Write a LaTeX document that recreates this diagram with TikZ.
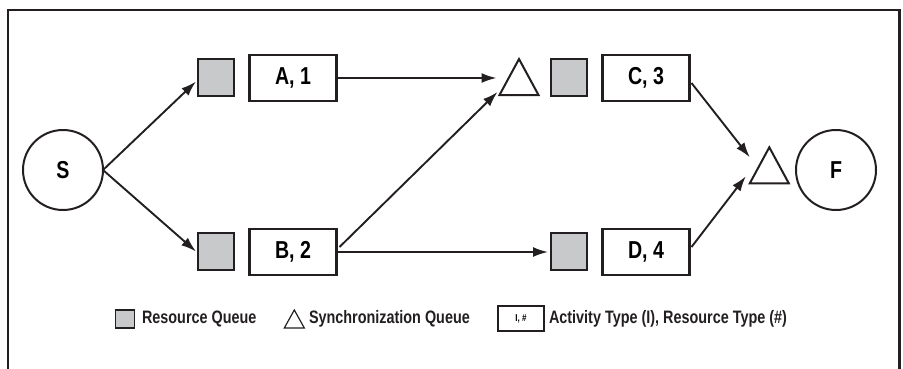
\documentclass[tikz,border=0pt]{standalone}
\usepackage{fontspec}
\setmainfont[FakeStretch=0.8]{Liberation Sans}
\usetikzlibrary{arrows.meta,calc}
\definecolor{qgray}{HTML}{C8C9CB}
\definecolor{ink}{HTML}{231F20}
\begin{document}
\begin{tikzpicture}[x=1pt,y=-1pt,
  every node/.style={inner sep=0pt,outer sep=0pt},
  circ/.style={draw=ink,line width=2pt,circle,minimum size=80pt,font=\bfseries\fontsize{24.5}{26}\selectfont},
  act/.style={draw=ink,line width=2.3pt,fill=white,minimum width=87pt,minimum height=46pt,font=\bfseries\fontsize{24.5}{26}\selectfont},
  rq/.style={draw=ink,line width=2.3pt,fill=qgray,minimum width=36pt,minimum height=37pt},
  sq/.style={minimum width=39pt,minimum height=36pt},
  tri/.style={draw=ink,line width=2pt,line join=miter},
  conn/.style={draw=ink,line width=1.9pt,-{Latex[length=15pt,width=10pt]}},
  legtext/.style={anchor=west,font=\bfseries\fontsize{18}{20}\selectfont,text=ink}
]
\useasboundingbox (0,0) rectangle (903,368);
\draw[ink,line width=2.2pt] (8,10) rectangle (899.5,385);

% nodes
\node[circ] (S) at (63,170) {S};
\node[circ] (F) at (836,170) {F};
\node[rq] (QA) at (216,77.5) {};
\node[act] (A) at (293,78) {A, 1};
\node[sq] (T1) at (519,77) {};
\node[rq] (QC) at (569,77.5) {};
\node[act] (C) at (646,78) {C, 3};
\node[sq] (T2) at (769.3,165.3) {};
\node[rq] (QB) at (216,251.5) {};
\node[act] (B) at (293,252) {B, 2};
\node[rq] (QD) at (569,251.5) {};
\node[act] (D) at (646,252) {D, 4};

\draw[tri] (T1.south west) -- (T1.north) -- (T1.south east) -- cycle;
\draw[tri] (T2.south west) -- (T2.north) -- (T2.south east) -- cycle;

% connectors
\draw[conn] (S.east) -- ($(QA.west)+(-2,4)$);
\draw[conn] (S.east) -- ($(QB.west)+(-2,0)$);
\draw[conn] (A.east) -- ($(T1.west)+(-3,1)$);
\draw[conn] ($(B.east)+(3,-5)$) -- ($(T1.south west)+(-2,-3)$);
\draw[conn] (B.east) -- ($(QD.west)+(-3,0.5)$);
\draw[conn] ($(C.east)+(2,5)$) -- ($(T2.west)+(0,-8)$);
\draw[conn] ($(D.east)+(2,-5)$) -- ($(T2.west)+(-4,11)$);

% legend
\node[draw=ink,line width=1.5pt,fill=qgray,minimum width=19pt,minimum height=18pt] (LQ) at (125,319) {};
\node[legtext] (LQt) at (142,319) {Resource Queue};
\node[minimum width=20pt,minimum height=18pt] (LT) at (294.3,319) {};
\draw[ink,line width=1.2pt] (LT.south west) -- (LT.north) -- (LT.south east) -- cycle;
\node[legtext] (LTt) at (309,319) {Synchronization Queue};
\node[draw=ink,line width=1.5pt,minimum width=46pt,minimum height=25pt,font=\bfseries\fontsize{10}{11}\selectfont] (LB) at (521,318.5) {I, \#};
\node[legtext] (LBt) at (549,319) {Activity Type (I), Resource Type (\#)};
\end{tikzpicture}
\end{document}
